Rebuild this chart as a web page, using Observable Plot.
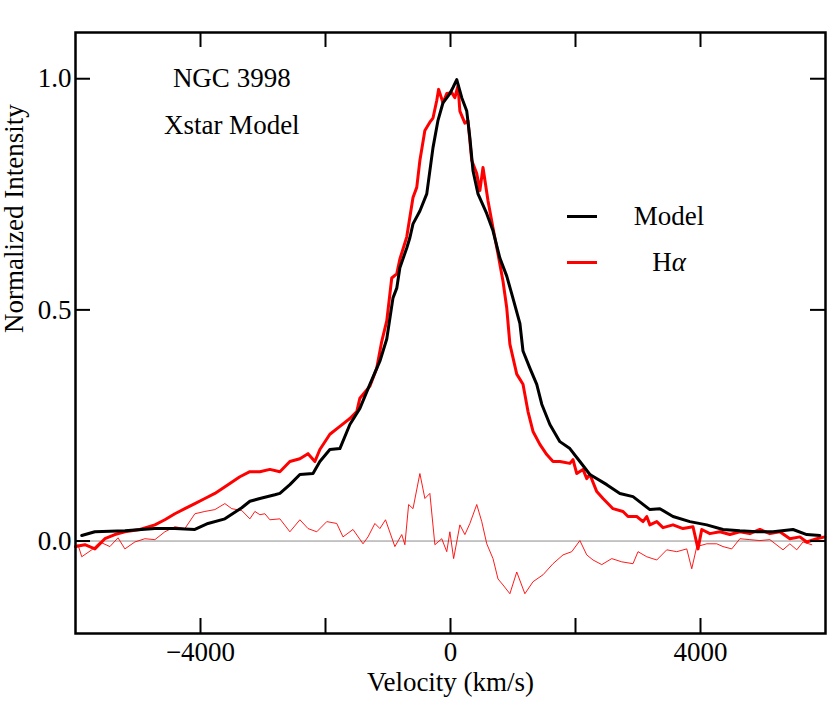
<!DOCTYPE html>
<html><head><meta charset="utf-8">
<script src="https://cdn.jsdelivr.net/npm/d3@7"></script>
<script src="https://cdn.jsdelivr.net/npm/@observablehq/plot@0.6"></script>
<style>
body{margin:0;background:#fff;}
#wrap{position:relative;width:830px;height:701px;}
.leg{position:absolute;font-family:"Liberation Serif","Times New Roman",serif;font-size:27px;color:#000;line-height:1;}
.sw{position:absolute;height:3px;width:30px;}
.tk{position:absolute;background:#000;z-index:5;}
</style></head><body><div id="wrap"></div>
<script>
// Model (black)
const modelV = [-5900,-5690,-5210,-4730,-4410,-4090,-3880,-3610,-3340,-3210,-3050,-2810,-2730,-2570,-2410,-2200,-2090,-1930,-1770,-1610,-1450,-1290,-1130,-1020,-920,-860,-810,-700,-650,-600,-490,-380,-280,-200,-120,-10,40,100,180,260,310,360,440,580,680,790,900,1000,1110,1160,1270,1380,1460,1590,1750,1910,2070,2230,2500,2710,2920,3190,3350,3560,3830,4100,4360,4630,4900,5160,5480,5700,5910];
const modelI = [0.012,0.020,0.022,0.027,0.027,0.025,0.038,0.048,0.072,0.086,0.092,0.100,0.103,0.122,0.144,0.146,0.172,0.198,0.200,0.252,0.287,0.339,0.389,0.437,0.526,0.547,0.591,0.634,0.656,0.686,0.714,0.751,0.851,0.910,0.948,0.968,0.981,0.998,0.959,0.930,0.872,0.801,0.751,0.708,0.671,0.612,0.573,0.525,0.471,0.411,0.374,0.339,0.296,0.252,0.215,0.200,0.172,0.144,0.122,0.103,0.096,0.068,0.070,0.053,0.042,0.035,0.025,0.022,0.020,0.020,0.025,0.014,0.012];
// H-alpha (thick red)
const haV = [-6000,-5850,-5690,-5530,-5370,-5210,-4970,-4730,-4570,-4410,-4250,-4090,-3930,-3770,-3560,-3370,-3210,-3050,-2890,-2730,-2570,-2410,-2280,-2170,-2090,-1930,-1770,-1610,-1500,-1450,-1290,-1180,-1100,-1020,-940,-860,-810,-700,-600,-540,-490,-410,-330,-280,-220,-190,-120,-60,20,70,120,150,230,280,340,420,470,520,600,680,760,840,900,950,1060,1160,1240,1320,1430,1540,1640,1750,1910,1960,2020,2120,2180,2230,2340,2440,2600,2760,2840,2980,3080,3140,3190,3300,3400,3560,3720,3880,3960,4020,4150,4310,4470,4630,4790,4950,5110,5270,5430,5590,5700,5860,5990];
const haI = [-0.012,-0.008,-0.017,0.005,0.014,0.020,0.025,0.035,0.046,0.059,0.070,0.081,0.092,0.103,0.122,0.139,0.150,0.150,0.155,0.150,0.172,0.178,0.189,0.172,0.198,0.231,0.248,0.265,0.280,0.309,0.335,0.374,0.432,0.476,0.569,0.578,0.610,0.658,0.743,0.765,0.823,0.888,0.906,0.915,0.953,0.977,0.948,0.968,0.970,0.959,0.985,0.930,0.904,0.909,0.823,0.795,0.758,0.808,0.736,0.677,0.621,0.562,0.504,0.426,0.361,0.339,0.280,0.237,0.209,0.187,0.172,0.172,0.168,0.176,0.146,0.155,0.135,0.144,0.107,0.092,0.070,0.064,0.053,0.053,0.042,0.053,0.035,0.042,0.029,0.035,0.027,0.031,-0.017,0.025,0.016,0.020,0.014,0.020,0.016,0.025,0.016,0.020,0.005,0.009,-0.002,0.005,0.009];
// Residual (thin red)
const resV = [-5960,-5900,-5740,-5610,-5450,-5320,-5210,-5050,-4890,-4730,-4570,-4410,-4250,-4090,-3930,-3770,-3610,-3500,-3340,-3210,-3130,-3050,-2970,-2890,-2730,-2570,-2410,-2280,-2140,-1980,-1820,-1720,-1560,-1400,-1320,-1210,-1130,-1040,-890,-780,-730,-670,-600,-490,-410,-330,-250,-140,-60,-10,50,150,230,310,420,500,580,680,760,840,950,1060,1190,1320,1480,1640,1800,1940,2070,2180,2280,2420,2580,2740,2920,3000,3140,3300,3460,3620,3780,3860,3940,4100,4260,4360,4500,4630,4790,4950,5110,5320,5430,5540,5640,5780];
const resI = [-0.008,-0.034,-0.019,-0.002,-0.012,0.007,-0.017,-0.002,0.005,0.003,0.020,0.031,0.027,0.059,0.064,0.068,0.081,0.070,0.066,0.048,0.064,0.057,0.059,0.046,0.048,0.020,0.046,0.027,0.020,0.042,0.038,0.009,0.025,-0.006,0.009,0.038,0.027,0.046,-0.012,0.014,-0.008,0.079,0.070,0.146,0.092,0.103,-0.008,0.005,-0.023,0.020,-0.038,0.035,0.014,0.038,0.079,0.042,-0.006,-0.038,-0.082,-0.095,-0.114,-0.067,-0.114,-0.088,-0.073,-0.049,-0.030,-0.023,0.001,-0.030,-0.041,-0.051,-0.038,-0.045,-0.049,-0.023,-0.034,-0.041,-0.019,-0.023,-0.017,-0.060,-0.012,-0.006,-0.006,-0.012,-0.017,0.005,0.003,0.001,0.003,-0.019,-0.006,-0.019,-0.002,-0.008];

const xDomain = [-6000, 6000];
const yDomain = [-0.2, 1.1];
const xTicks = [-4000, -2000, 0, 2000, 4000];
const xTickLabels = [-4000, 0, 4000];
const yTicks = [0, 0.5, 1.0];
const annotV = [-3500, -3500];
const annotI = [1.0, 0.9];
const annotText = ["NGC 3998", "Xstar Model"];
const legendLabels = ["Model", "H<i>α</i>"];
const legendColors = ["#000", "#ff0000"];

const zip = (V, I) => V.map((v, k) => ({v, i: I[k]}));
const model = zip(modelV, modelI);
const ha = zip(haV, haI);
const res = zip(resV, resI);
const annots = annotText.map((t, k) => ({v: annotV[k], i: annotI[k], t}));

const W = 830, H = 701, ML = 75, MR = 5, MT = 32, MB = 68;
const tickLen = 15; // px
const font = '"Liberation Serif", "Times New Roman", serif';
const fmtX = d => d < 0 ? "\u2212" + Math.abs(d) : String(d);

// tick length in each scale's units (15 px)
const tx = tickLen * (xDomain[1] - xDomain[0]) / (W - ML - MR);
const ty = tickLen * (yDomain[1] - yDomain[0]) / (H - MT - MB);
const tickStyle = {stroke: "#000", strokeWidth: 2};

const chart = Plot.plot({
  width: W, height: H,
  marginLeft: ML, marginRight: MR, marginTop: MT, marginBottom: MB,
  style: {fontFamily: font, fontSize: "27px", background: "#fff", color: "#000"},
  x: {domain: xDomain},
  y: {domain: yDomain},
  marks: [
    Plot.ruleY([0], {stroke: "#8c8c8c", strokeWidth: 1}),
    Plot.line(res, {x: "v", y: "i", stroke: "#ff0000", strokeWidth: 0.9}),
    Plot.line(ha, {x: "v", y: "i", stroke: "#ff0000", strokeWidth: 3}),
    Plot.line(model, {x: "v", y: "i", stroke: "#000", strokeWidth: 3}),
    Plot.text(annots, {x: "v", y: "i", text: "t", fontSize: 27}),
    // inward ticks on all four sides
    Plot.ruleX(xTicks, {x: d => d, y1: yDomain[0], y2: yDomain[0] + ty, ...tickStyle}),
    Plot.ruleX(xTicks, {x: d => d, y1: yDomain[1] - ty, y2: yDomain[1], ...tickStyle}),
    Plot.ruleY(yTicks, {y: d => d, x1: xDomain[0], x2: xDomain[0] + tx, ...tickStyle}),
    Plot.ruleY(yTicks, {y: d => d, x1: xDomain[1] - tx, x2: xDomain[1], ...tickStyle}),
    Plot.axisX({anchor: "bottom", ticks: xTickLabels, tickSize: 0, tickPadding: 8, tickFormat: fmtX, label: null, fontSize: 27}),
    Plot.axisY({anchor: "left", ticks: yTicks, tickSize: 0, tickPadding: 4, tickFormat: d3.format(".1f"), label: null, fontSize: 27}),
    Plot.text(["Velocity (km/s)"], {frameAnchor: "bottom", dy: 57, fontSize: 27}),
    Plot.text(["Normalized Intensity"], {frameAnchor: "left", dx: -61, rotate: -90, fontSize: 27}),
    Plot.frame({stroke: "#000", strokeWidth: 2.5})
  ]
});

const wrap = document.getElementById("wrap");
wrap.appendChild(chart);

// legend (inside the plot, upper right)
const legTop = [216, 262];
legendLabels.forEach((lab, k) => {
  const sw = document.createElement("div");
  sw.className = "sw";
  sw.style.left = "567px";
  sw.style.top = (legTop[k] - 1.5) + "px";
  sw.style.background = legendColors[k];
  wrap.appendChild(sw);
  const t = document.createElement("div");
  t.className = "leg";
  t.style.left = "669px";
  t.style.top = legTop[k] + "px";
  t.style.transform = "translate(-50%, -50%)";
  t.innerHTML = lab;
  wrap.appendChild(t);
});
</script>
</body></html>
